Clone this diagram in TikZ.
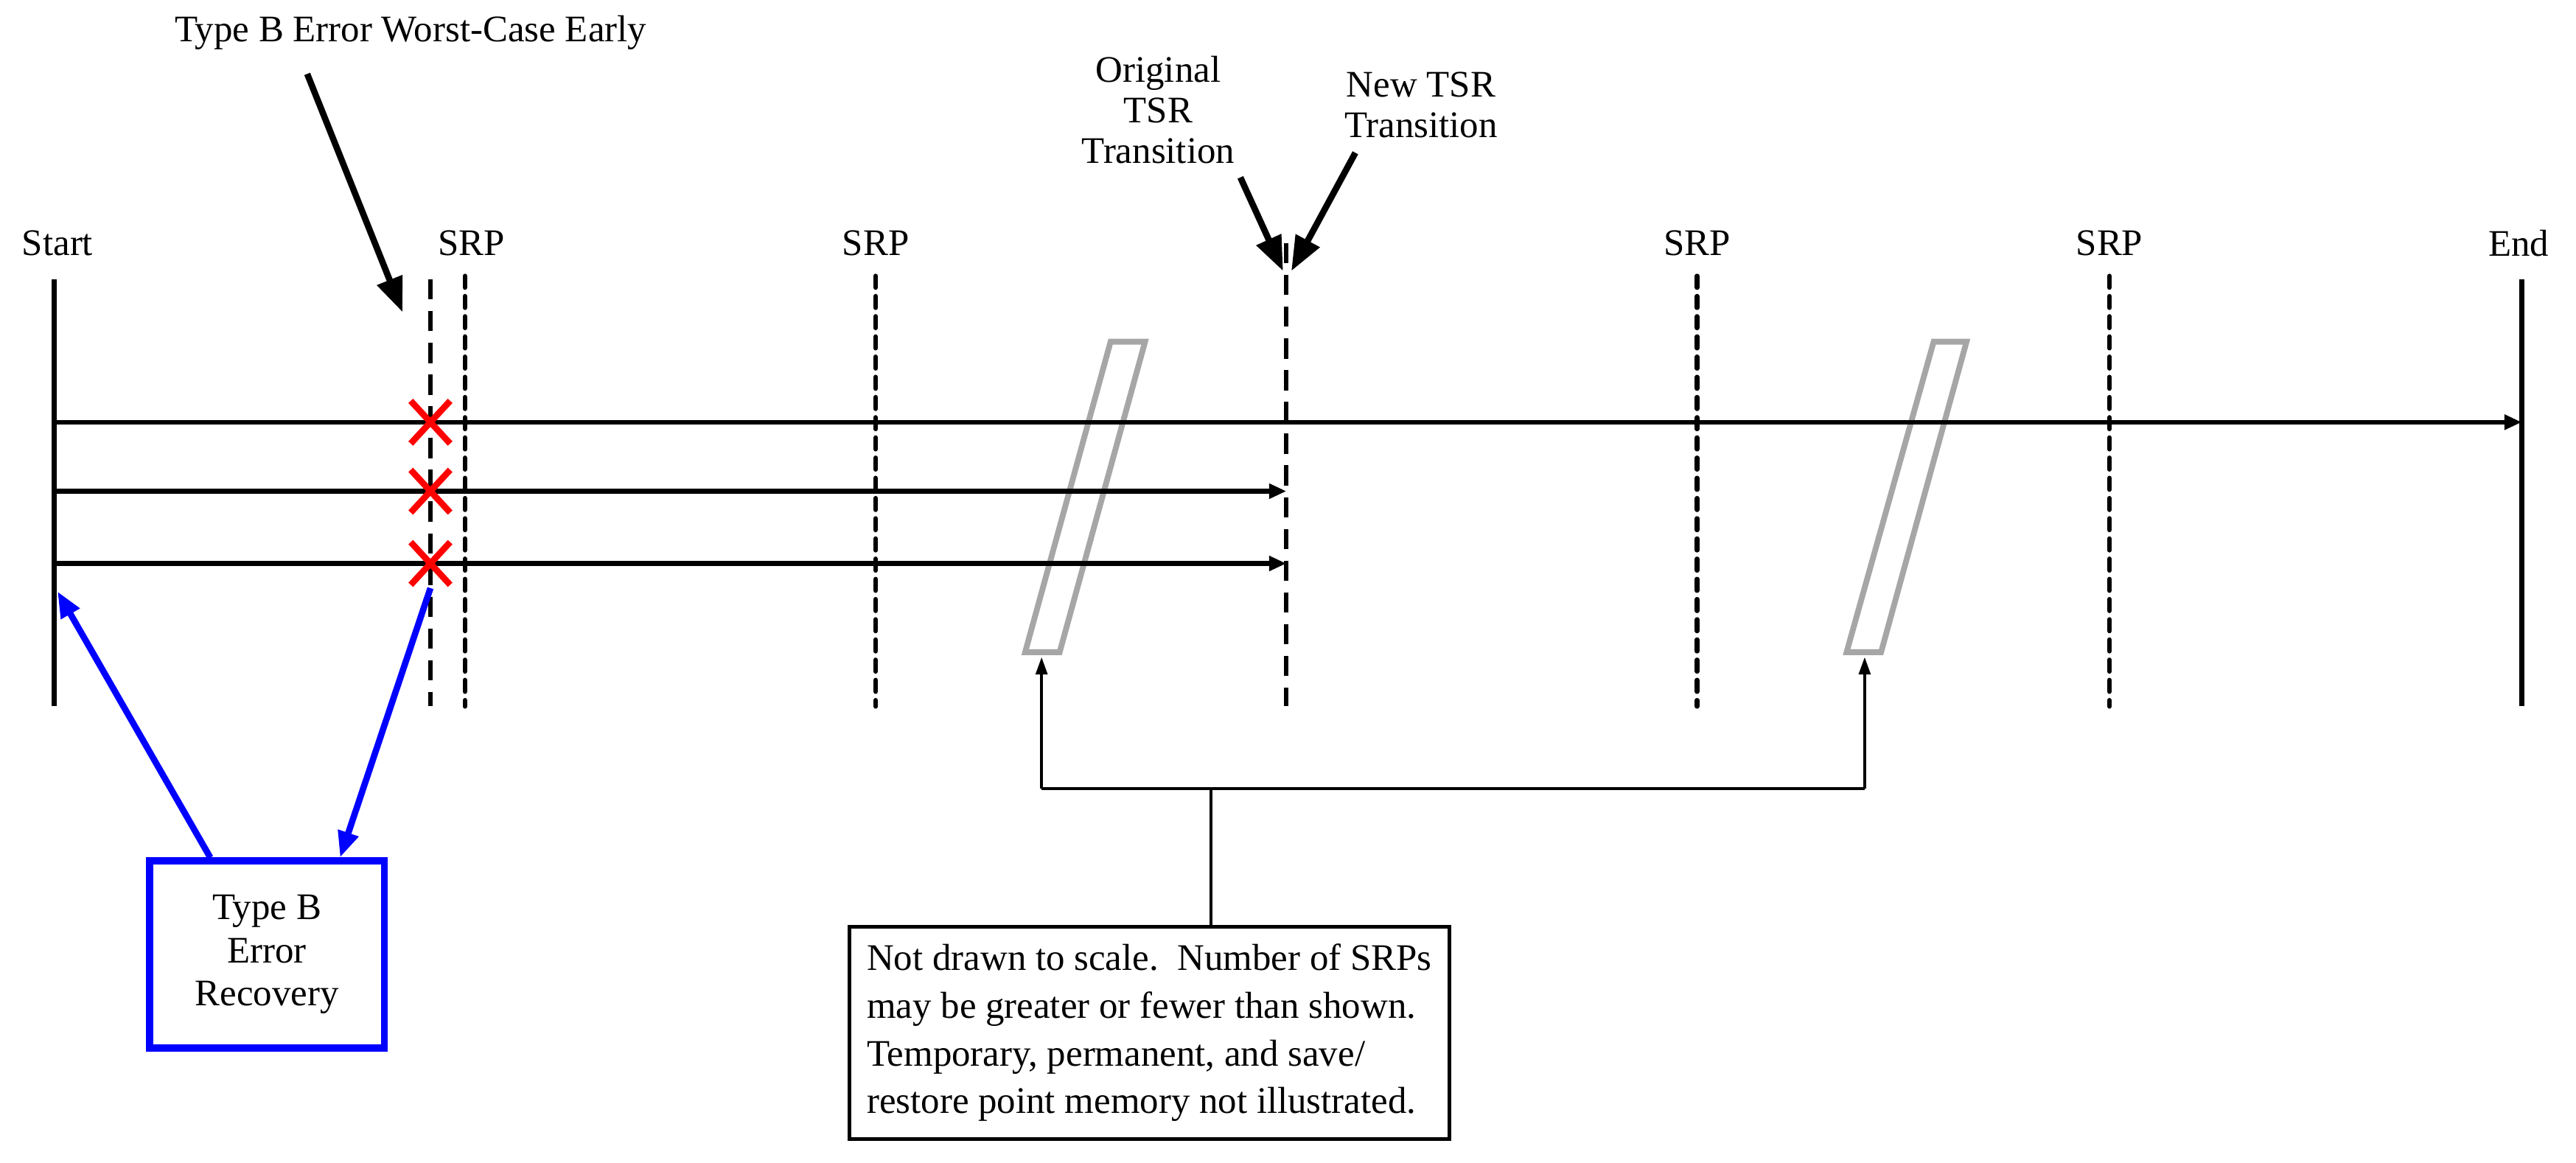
\documentclass[tikz,border=0pt]{standalone}
\usepackage{fontspec}
\setmainfont{Liberation Serif}
\usetikzlibrary{arrows.meta}
\begin{document}
\begin{tikzpicture}[x=0.02cm,y=-0.02cm,
 lbl/.style={font=\fontsize{13}{15}\selectfont,align=center},
 solidv/.style={line width=1.6pt},
 longd/.style={line width=1.6pt,dash pattern=on 7pt off 4pt},
 shortd/.style={line width=1.6pt,dash pattern=on 4pt off 3pt,line cap=round},
 tl/.style={line width=1.6pt,-{Triangle[length=6pt,width=5pt]}},
 xm/.style={red,line width=2.2pt},
 bk/.style={draw=gray!70,line width=2pt,fill=white},
 blu/.style={blue,line width=2.2pt,-{Triangle[length=9pt,width=7pt]}},
 big/.style={line width=2.2pt,-{Triangle[length=12pt,width=9pt]}},
 thin/.style={line width=1pt}]
\useasboundingbox (0,0) rectangle (1568,707.6);
\node[lbl] (start) at (35,148) {Start};
\node[lbl] (end) at (1533,148) {End};
\foreach \x/\n in {287/s1,533/s2,1033/s3,1284/s4}{\node[lbl] (\n) at (\x,148) {SRP};}
\coordinate (st) at (33,170); \coordinate (sb) at (33,430);
\draw[solidv] (st) -- (sb);
\draw[solidv] (1535,170) -- (1535,430);
\draw[longd] (262,170) -- (262,430);
\foreach \x in {283,533,1033,1284}{\draw[shortd] (\x,168) -- (\x,430);}
\draw[longd] (783,148) -- (783,430);
% parallelograms
\draw[bk] (676,208) -- (697,208) -- (645,397) -- (624,397) -- cycle;
\draw[bk] (1177,208) -- (1197,208) -- (1145,397) -- (1124,397) -- cycle;
% arrows
\coordinate (a1) at (33,257); \coordinate (e1) at (1535,257);
\coordinate (a2) at (33,299); \coordinate (e2) at (783,299);
\coordinate (a3) at (33,343); \coordinate (e3) at (783,343);
\draw[tl] (a1) -- (e1);
\draw[tl] (a2) -- (e2);
\draw[tl] (a3) -- (e3);
\foreach \y in {257,299,343}{
 \draw[xm] (250,\y-13) -- (274,\y+13);
 \draw[xm] (274,\y-13) -- (250,\y+13);}
% bracket
\coordinate (b1) at (634,480); \coordinate (b2) at (1135,480); \coordinate (bm) at (737,480);
\draw[thin,-{Triangle[length=6pt,width=4pt]}] (b1) -- (634,400);
\draw[thin,-{Triangle[length=6pt,width=4pt]}] (b2) -- (1135,400);
\draw[thin] (b1) -- (b2);
\node[draw,line width=1.3pt,align=left,inner sep=6pt,font=\fontsize{13}{16.5}\selectfont,anchor=north west] (note) at (516,563) {Not drawn to scale.\ \ Number of SRPs\\may be greater or fewer than shown.\\Temporary, permanent, and save/\\restore point memory not illustrated.};
\draw[thin] (bm) -- (bm |- note.north);
% blue box
\node[draw=blue,line width=2.5pt,minimum width=143\pgflinewidth,lbl,minimum width=2.86cm,minimum height=2.28cm] (rec) at (162.5,581) {Type B\\Error\\Recovery};
\draw[blu] (128,522) -- (35,360);
\draw[blu] (262,358) -- (207,522);
% top labels
\node[lbl] (tb) at (250,20) {Type B Error Worst-Case Early};
\draw[big] (187,45) -- (245,190);
\node[lbl,font=\fontsize{13}{14}\selectfont] (ot) at (705,67) {Original\\TSR\\Transition};
\node[lbl,font=\fontsize{13}{14}\selectfont] (nt) at (865,64) {New TSR\\Transition};
\draw[big] (755,108) -- (781,165);
\draw[big] (825,93) -- (786,165);
\end{tikzpicture}
\end{document}
